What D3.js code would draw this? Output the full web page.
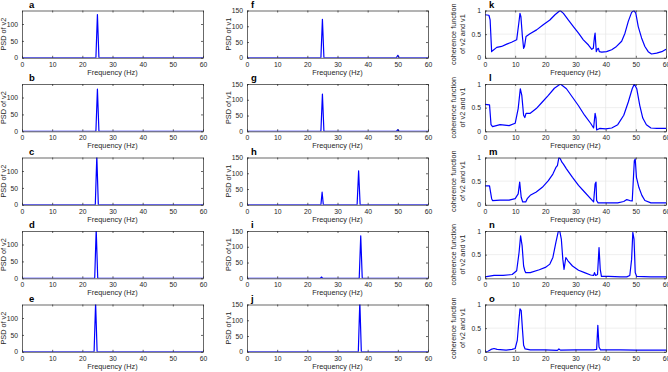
<!DOCTYPE html>
<html><head><meta charset="utf-8">
<script src="https://cdn.jsdelivr.net/npm/d3@7/dist/d3.min.js"></script>
<style>body{margin:0;background:#fff}svg{display:block}text{font-family:"Liberation Sans",Arial,sans-serif}</style>
</head><body><svg id="c" width="668" height="372"></svg>
<script>
// ---- Data ----
const freqTicks = [0,10,20,30,40,50,60];
const psdTicks = [0,50,100,150];
const cohTicks = [0,0.5,1];
const panelLetters = ["a","b","c","d","e","f","g","h","i","j","k","l","m","n","o"];
const yLabels = ["PSD of v2","PSD of v1",["coherence function","of v2 and v1"]];

// PSD of v2 (col 1): [freq, value]
const psdV2_a = [[0,0],[24.5,0],[25,128],[25.5,0],[60,0]];
const psdV2_b = [[0,0],[24.5,0],[25,125],[25.5,0],[60,0]];
const psdV2_c = [[0,0],[24.3,0],[24.8,145],[25.3,0],[60,0]];
const psdV2_d = [[0,0],[24.1,0],[24.6,145],[25.1,0],[60,0]];
const psdV2_e = [[0,0],[23.9,0],[24.4,145],[24.9,0],[60,0]];
// PSD of v1 (col 2)
const psdV1_f = [[0,0],[24.5,0],[25,122],[25.5,0],[49.5,0],[50,8],[50.5,0],[60,0]];
const psdV1_g = [[0,0],[24.5,0],[25,118],[25.5,0],[49.5,0],[50,5],[50.5,0],[60,0]];
const psdV1_h = [[0,0],[24.5,0],[24.9,40],[25.3,0],[36.5,0],[37,108],[37.5,0],[60,0]];
const psdV1_i = [[0,0],[24.3,0],[24.7,4],[25.1,0],[37.2,0],[37.7,135],[38.2,0],[60,0]];
const psdV1_j = [[0,0],[36.9,0],[37.4,160],[37.9,0],[60,0]];
// Coherence (col 3)
const coh_k = [[0,0.91],[1.3,0.9],[1.7,0.8],[2.2,0.13],[2.5,0.15],[3.9,0.22],[5.5,0.24],[7.2,0.29],[8.8,0.33],[10.5,0.38],[11.2,0.73],[11.6,0.94],[11.9,0.87],[12.4,0.45],[12.8,0.2],[13.1,0.24],[13.6,0.45],[14.9,0.51],[17.1,0.59],[19.3,0.7],[21.5,0.8],[23.2,0.91],[24.9,1.0],[26,0.94],[27.6,0.8],[29.3,0.66],[31,0.52],[32.6,0.38],[34.3,0.27],[35.4,0.18],[35.9,0.2],[36.3,0.45],[36.5,0.52],[36.7,0.31],[36.9,0.13],[37.2,0.18],[37.6,0.2],[37.9,0.13],[38.7,0.12],[40.3,0.13],[42,0.17],[43.6,0.24],[45.3,0.35],[46.4,0.52],[47.5,0.77],[48.6,0.96],[49.4,1.0],[50,0.94],[50.8,0.66],[51.9,0.42],[53,0.24],[54.1,0.13],[55.2,0.08],[56.9,0.1],[58.6,0.13],[60,0.18]];
const coh_l = [[0,0.57],[1.5,0.56],[2,0.14],[2.5,0.1],[5,0.14],[8,0.12],[10,0.17],[11,0.48],[11.7,0.9],[12.2,0.76],[12.8,0.34],[13.2,0.29],[13.6,0.38],[15,0.38],[17,0.48],[19,0.62],[21,0.76],[23,0.91],[25,1.0],[27,0.9],[29,0.72],[31,0.54],[33,0.34],[35,0.17],[36,0.07],[36.5,0.38],[36.8,0.28],[37,0.03],[38,0.06],[40,0.05],[42,0.07],[44,0.14],[46,0.34],[47.5,0.62],[48.8,0.9],[49.5,1.0],[50.3,0.9],[51.3,0.55],[52.3,0.28],[53.5,0.14],[55,0.07],[57,0.06],[60,0.06]];
const coh_m = [[0,0.4],[1.5,0.4],[2.2,0.13],[2.5,0.09],[5,0.1],[8,0.1],[10,0.13],[11,0.23],[11.5,0.48],[12,0.16],[12.5,0.06],[13.5,0.06],[14,0.13],[15,0.2],[17,0.27],[19,0.37],[21,0.51],[22.5,0.65],[23.5,0.79],[24,0.83],[24.5,1.0],[25,0.97],[25.5,0.9],[26,0.86],[27,0.76],[29,0.58],[31,0.41],[33,0.27],[35,0.13],[36,0.06],[36.5,0.44],[36.8,0.48],[37,0.09],[37.5,0.04],[40,0.04],[44,0.04],[46,0.07],[47,0.11],[48,0.09],[48.8,0.08],[49.1,0.44],[49.5,0.93],[49.8,0.97],[50.2,0.58],[51,0.37],[52,0.2],[53,0.09],[55,0.04],[60,0.04]];
const coh_n = [[0,0.03],[3,0.06],[6,0.06],[9,0.08],[10.5,0.16],[11.3,0.55],[11.8,0.9],[12.3,0.69],[12.8,0.26],[13.2,0.16],[13.5,0.12],[15,0.12],[18,0.18],[20,0.23],[21.5,0.3],[22.5,0.44],[23.5,0.76],[24.3,0.99],[24.8,0.99],[25.3,0.83],[25.8,0.4],[26.2,0.19],[26.8,0.44],[27.5,0.37],[29,0.26],[31,0.17],[33,0.12],[35,0.07],[36,0.06],[36.3,0.12],[36.7,0.06],[37.3,0.08],[37.8,0.65],[38.2,0.19],[38.6,0.04],[41,0.04],[45,0.03],[47,0.03],[48,0.06],[48.6,0.4],[49,0.97],[49.4,0.83],[49.8,0.12],[50.3,0.04],[55,0.03],[60,0.03]];
const coh_o = [[0,0],[1,0.01],[2,0.05],[3,0.07],[4,0.05],[7,0.035],[9,0.05],[10,0.07],[10.7,0.24],[11.2,0.63],[11.6,0.91],[12,0.87],[12.4,0.49],[12.8,0.14],[13.3,0.06],[15,0.04],[20,0.04],[24,0.03],[24.5,0.06],[25,0.035],[30,0.04],[36,0.04],[37,0.05],[37.4,0.56],[37.8,0.1],[38.3,0.04],[45,0.04],[50,0.035],[60,0.035]];

const series = [
  [psdV2_a,psdV2_b,psdV2_c,psdV2_d,psdV2_e],
  [psdV1_f,psdV1_g,psdV1_h,psdV1_i,psdV1_j],
  [coh_k,coh_l,coh_m,coh_n,coh_o]
];
const yMax = [140,150,1];
const yTicksByCol = [[0,50,100],psdTicks,cohTicks];

// ---- Layout ----
const colX = [[22,203],[247,428],[485,666]];
const rowTop = [10.5,84,157.5,231,304.5];
const plotH = 47.3;
const axisColor = "#262626";
const tickFont = 6.8, labelFont = 7.3;

const svg = d3.select("#c");
const defs = svg.append("defs");

for (let c=0;c<3;c++){
  for (let r=0;r<5;r++){
    const [x0,x1] = colX[c];
    const y0 = rowTop[r], y1 = y0+plotH;
    const x = d3.scaleLinear().domain([0,60]).range([x0,x1]);
    const y = d3.scaleLinear().domain([0,yMax[c]]).range([y1,y0]);
    const g = svg.append("g");
    const id = "clip"+c+"_"+r;
    defs.append("clipPath").attr("id",id).append("rect")
      .attr("x",x0).attr("y",y0).attr("width",x1-x0).attr("height",plotH);
    if (c===2){
      g.append("g").selectAll("line").data(freqTicks.slice(1,-1)).join("line")
        .attr("x1",d=>x(d)).attr("x2",d=>x(d)).attr("y1",y0).attr("y2",y1)
        .attr("stroke","#e3e3e3").attr("stroke-width",0.6);
      g.append("g").selectAll("line").data([0.5]).join("line")
        .attr("x1",x0).attr("x2",x1).attr("y1",d=>y(d)).attr("y2",d=>y(d))
        .attr("stroke","#e3e3e3").attr("stroke-width",0.6);
    }
    g.append("path").datum(series[c][r])
      .attr("clip-path","url(#"+id+")")
      .attr("d",d3.line().x(d=>x(d[0])).y(d=>y(d[1])))
      .attr("fill","none").attr("stroke","#0000ff").attr("stroke-width",1.2)
      .attr("stroke-linejoin","round");
    const xa = d3.axisBottom(x).tickValues(freqTicks).tickSizeInner(-2).tickSizeOuter(0).tickPadding(4);
    const ya = d3.axisLeft(y).tickValues(yTicksByCol[c]).tickSizeInner(-2).tickSizeOuter(0).tickPadding(4)
      .tickFormat(d3.format("~g"));
    const gx = g.append("g").attr("transform",`translate(0,${y1})`).call(xa);
    const gy = g.append("g").attr("transform",`translate(${x0},0)`).call(ya);
    const xt = d3.axisTop(x).tickValues(freqTicks).tickSizeInner(-2).tickSizeOuter(0).tickFormat("");
    const yr = d3.axisRight(y).tickValues(yTicksByCol[c]).tickSizeInner(-2).tickSizeOuter(0).tickFormat("");
    const gt = g.append("g").attr("transform",`translate(0,${y0})`).call(xt);
    const gr = g.append("g").attr("transform",`translate(${x1},0)`).call(yr);
    [gx,gy,gt,gr].forEach(a=>{
      a.selectAll("path").attr("stroke",axisColor).attr("stroke-width",0.7);
      a.selectAll("line").attr("stroke",axisColor).attr("stroke-width",0.7);
      a.selectAll("text").attr("fill","#262626").attr("font-size",tickFont).attr("font-family",'"Liberation Sans",Arial,sans-serif');
    });
    g.append("text").attr("x",(x0+x1)/2).attr("y",y1+17).attr("text-anchor","middle")
      .attr("font-size",labelFont).attr("fill","#262626").text("Frequency (Hz)");
    const yl = yLabels[c];
    const yc = (y0+y1)/2;
    if (Array.isArray(yl)){
      const lx = [x0-29,x0-20];
      yl.forEach((t,i)=>{
        g.append("text").attr("transform",`translate(${lx[i]},${yc}) rotate(-90)`)
          .attr("text-anchor","middle").attr("font-size",labelFont).attr("fill","#262626").text(t);
      });
    } else {
      g.append("text").attr("transform",`translate(${x0-16.5},${yc}) rotate(-90)`)
        .attr("text-anchor","middle").attr("font-size",labelFont).attr("fill","#262626").text(yl);
    }
    g.append("text").attr("x",x0+(c===0?7:4)).attr("y",y0-3).attr("font-size",9.5)
      .attr("font-weight","bold").attr("fill","#000").text(panelLetters[c*5+r]);
  }
}
</script></body></html>
